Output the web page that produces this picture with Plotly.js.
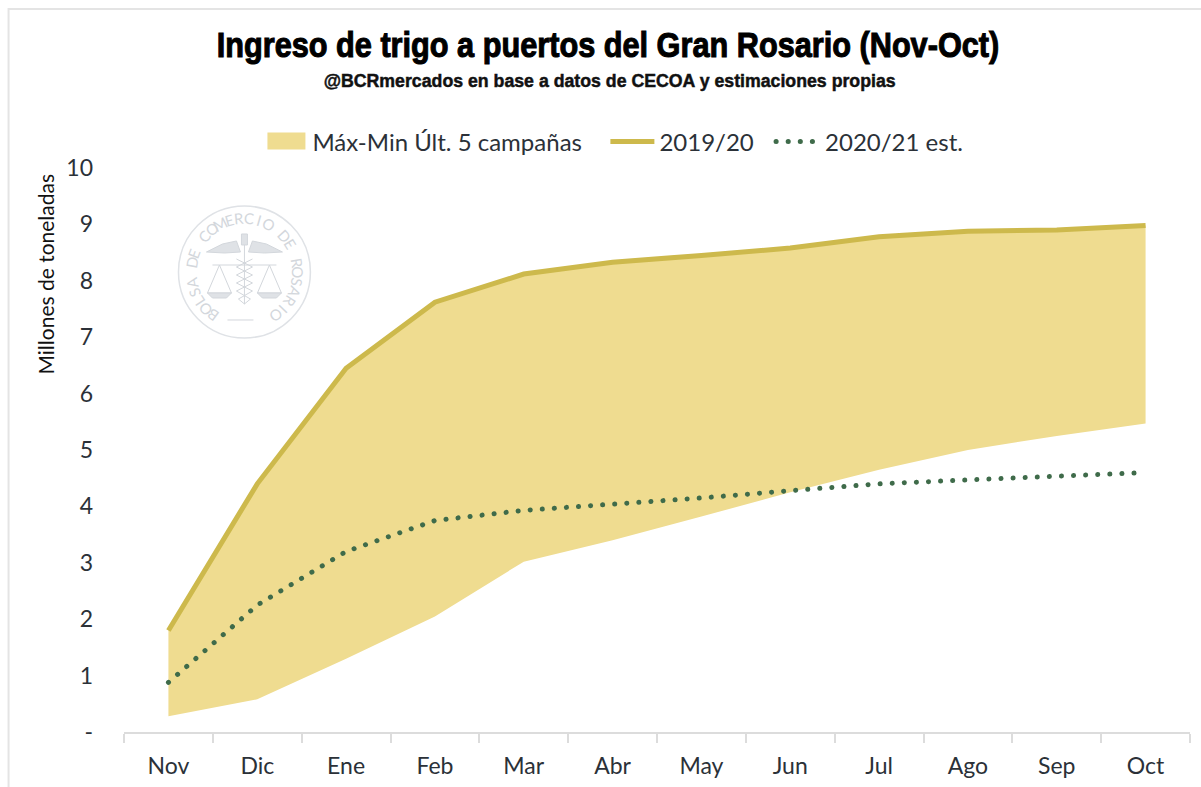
<!DOCTYPE html>
<html><head><meta charset="utf-8">
<script src="https://cdn.plot.ly/plotly-3.0.1.min.js"></script>
<style>
html,body{margin:0;padding:0;background:#fff}
#chart{width:1201px;height:787px}
.scatterlayer .trace:last-child .js-line{stroke-linecap:round !important}
.legend .traces:last-child .js-line{stroke-linecap:round !important}
.gtitle{stroke:#000;stroke-width:1.1px}
.annotation[data-index="0"] text{stroke:#111;stroke-width:.5px}
</style></head><body><div id="chart"></div>
<script>
const months = ['Nov','Dic','Ene','Feb','Mar','Abr','May','Jun','Jul','Ago','Sep','Oct'];
const rangeMin = [0.28,0.58,1.30,2.05,3.02,3.40,3.82,4.25,4.65,5.00,5.25,5.47];
const rangeMax = [1.80,4.40,6.45,7.62,8.12,8.33,8.45,8.58,8.78,8.88,8.90,8.98];
const campaign1920 = [1.80,4.40,6.45,7.62,8.12,8.33,8.45,8.58,8.78,8.88,8.90,8.98];
const campaign2021 = [0.88,2.25,3.20,3.75,3.93,4.03,4.15,4.28,4.40,4.47,4.53,4.60];
const yTickVals = [0,1,2,3,4,5,6,7,8,9,10];
const yTickText = ['-','1','2','3','4','5','6','7','8','9','10'];
const sealText = 'BOLSA DE COMERCIO DE ROSARIO';

const W=1201,H=787,L=123.5,R=1190,T=168,B=732;
const px=x=>(x-L)/(R-L), py=y=>(B-y)/(B-T);
const sansFont='Lato, "Open Sans", sans-serif';
const inkColor='#2b3138', sealColor='#d3d7dc', ringColor='#dfe2e6';
const annotations=[
 {text:'<b>@BCRmercados en base a datos de CECOA y estimaciones propias</b>',x:px(609),y:py(80),xref:'paper',yref:'paper',xanchor:'center',yanchor:'middle',showarrow:false,
  font:{family:'"Liberation Sans", sans-serif',size:19,color:'#111'}},
 {text:'Millones de toneladas',x:px(44),y:py(274),xref:'paper',yref:'paper',xanchor:'center',yanchor:'middle',showarrow:false,textangle:-90,
  font:{family:sansFont,size:21,color:'#111'}}
];
// seal lettering
const cx=244,cy=272,rText=54;
const startDeg=-144,endDeg=144;
[...sealText].forEach((ch,i,a)=>{
  const deg=startDeg+(endDeg-startDeg)*i/(a.length-1), t=deg*Math.PI/180;
  annotations.push({text:ch,x:px(cx+rText*Math.sin(t)),y:py(cy-rText*Math.cos(t)),xref:'paper',yref:'paper',xanchor:'center',yanchor:'middle',
    showarrow:false,textangle:deg,font:{family:sansFont,size:15,color:sealColor}});
});
const P=(x,y)=>px(x).toFixed(5)+','+py(y).toFixed(5);
const circle=(r,w)=>({type:'circle',xref:'paper',yref:'paper',x0:px(cx-r),x1:px(cx+r),y0:py(cy+r),y1:py(cy-r),line:{color:ringColor,width:w},layer:'below'});
const path=(pts,fill)=>({type:'path',xref:'paper',yref:'paper',
   path:'M'+pts.map(p=>P(cx+p[0],cy+p[1])).join(' L')+(fill?' Z':''),
   line:{color:sealColor,width:1},fillcolor:fill?ringColor:'rgba(0,0,0,0)',layer:'below'});
const shapes=[
 {type:'path',xref:'paper',yref:'paper',path:'M'+P(8,787)+' L'+P(8,9)+' L'+P(1201,9),line:{color:'#e4e4e4',width:2},layer:'below'},
 circle(66,1.5),
 path([[-38,-20],[-22,-28],[-8,-31],[-4,-20],[-20,-19]],true),
 path([[38,-20],[22,-28],[8,-31],[4,-20],[20,-19]],true),
 path([[0,-38],[0,32]]),
 path([[-3,-38],[3,-38],[3,-27],[-3,-27]],true),
 path([[-32,-7],[32,-7]]),
 path([[-25,-7],[-37,21],[-13,21],[-25,-7]]),
 path([[25,-7],[37,21],[13,21],[25,-7]]),
 path([[-37,21],[-32,26],[-18,26],[-13,21]],true),
 path([[37,21],[32,26],[18,26],[13,21]],true),
 path([[-8,-13],[8,-5],[-8,3],[8,11],[-8,19],[6,27],[0,32]]),
 path([[8,-13],[-8,-5],[8,3],[-8,11],[8,19],[-6,27],[0,32]]),
 path([[-17,48],[9,48]])
];
const data=[
 {x:months,y:rangeMin,type:'scatter',mode:'lines',line:{width:0},showlegend:false,hoverinfo:'skip'},
 {x:months,y:rangeMax,name:'Máx-Min Últ. 5 campañas\u00a0\u00a0\u00a0',type:'scatter',mode:'lines',line:{width:0},fill:'tonexty',fillcolor:'#EFDC90'},
 {x:months,y:campaign1920,name:'2019/20\u00a0\u00a0',type:'scatter',mode:'lines',line:{color:'#CDB94C',width:5}},
 {x:months,y:campaign2021,name:'2020/21 est.',type:'scatter',mode:'lines',line:{color:'#3F6B4A',width:5,dash:'0.1px,12px'}}
];
const layout={
 width:W,height:H,paper_bgcolor:'#fff',plot_bgcolor:'#fff',
 margin:{l:L,r:W-R,t:T,b:H-B,pad:0},
 title:{text:'<b>Ingreso de trigo a puertos del Gran Rosario (Nov-Oct)</b>',x:608/W,xanchor:'center',y:1-44/H,yanchor:'middle',
   font:{family:'"Liberation Sans", sans-serif',size:36,color:'#000'}},
 showlegend:true,
 legend:{orientation:'h',x:px(258),xanchor:'left',y:py(142),yanchor:'middle',itemwidth:44,entrywidth:0,traceorder:'normal',
   font:{family:sansFont,size:24,color:inkColor},bgcolor:'rgba(0,0,0,0)',itemclick:false,itemdoubleclick:false},
 xaxis:{type:'category',range:[-0.5,11.5],tickson:'boundaries',ticks:'outside',ticklen:9,tickwidth:2,tickcolor:'#dcdcdc',
   showline:true,linecolor:'#dcdcdc',linewidth:2,showgrid:false,zeroline:false,
   tickfont:{family:sansFont,size:23,color:inkColor},ticklabelstandoff:12},
 yaxis:{range:[0,10],tickvals:yTickVals,ticktext:yTickText,ticks:'',showline:false,showgrid:false,zeroline:false,
   tickfont:{family:sansFont,size:23,color:inkColor},ticklabelstandoff:30},
 annotations,shapes,hovermode:false
};
function squeeze(el,target){
  if(!el) return;
  const r=el.getBoundingClientRect();
  const c=r.left+r.width/2, s=target/r.width;
  const old=el.getAttribute('transform')||'';
  el.setAttribute('transform',`translate(${c},0) scale(${s},1) translate(${-c},0) ${old}`);
}
Plotly.newPlot('chart',data,layout,{displayModeBar:false}).then(gd=>{
  const f=gd.querySelector('.legend .legendfill path.js-fill');
  if(f){f.setAttribute('d','M9,-9h38v17h-38z');}
  squeeze(gd.querySelector('.g-gtitle'),783);
  squeeze(gd.querySelector('.annotation[data-index="0"]'),575);
});
</script></body></html>
